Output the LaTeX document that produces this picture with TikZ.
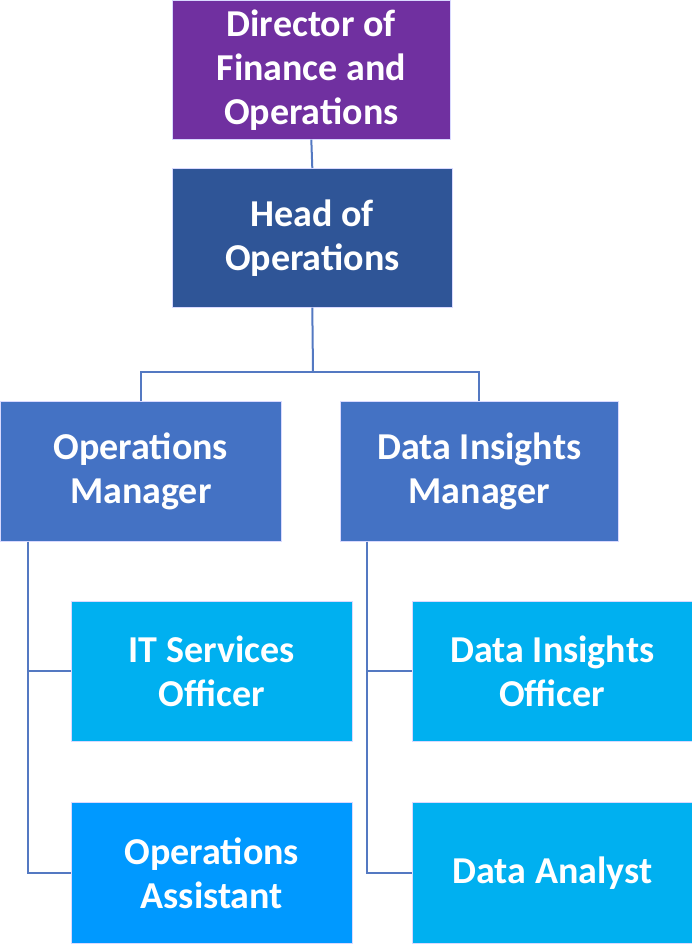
\documentclass[tikz,border=0pt]{standalone}
\usepackage{fontspec}
\setmainfont{Carlito}
\usetikzlibrary{calc}
\definecolor{cpurple}{HTML}{7030A0}
\definecolor{cdark}{HTML}{2F5597}
\definecolor{cmid}{HTML}{4472C4}
\definecolor{ccyan}{HTML}{00B0F0}
\definecolor{cbright}{HTML}{0099FF}
\definecolor{cline}{HTML}{5479C2}
\tikzset{
  box/.style={rectangle, anchor=north west, inner sep=0pt, align=center,
    text=white, font=\fontsize{38}{44}\selectfont\bfseries,
    draw=white!85!blue, line width=0.6pt},
  conn/.style={draw=cline, line width=2pt},
}
\begin{document}
\begin{tikzpicture}[x=1pt,y=-1pt]
\useasboundingbox (0,0) rectangle (692,944);
\node[box, fill=cpurple, minimum width=278pt, minimum height=139pt] (dir) at (172,0) {Director of\\Finance and\\Operations};
\node[box, fill=cdark, minimum width=280pt, minimum height=139pt] (head) at (172,168) {Head of\\Operations};
\node[box, fill=cmid, minimum width=281pt, minimum height=140pt] (om) at (0,401) {Operations\\Manager};
\node[box, fill=cmid, minimum width=278pt, minimum height=140pt] (dim) at (340,401) {Data Insights\\Manager};
\node[box, fill=ccyan, minimum width=281pt, minimum height=140pt] (its) at (71,601) {IT Services\\Officer};
\node[box, fill=cbright, minimum width=281pt, minimum height=141pt] (oa) at (71,802) {Operations\\Assistant};
\node[box, fill=ccyan, minimum width=280pt, minimum height=140pt] (dio) at (412,601) {Data Insights\\Officer};
\node[box, fill=ccyan, minimum width=280pt, minimum height=141pt] (da) at (412,802) {Data Analyst};
\coordinate (j) at (313,372);
\coordinate (lj) at ($(om.south west)+(28,0)$);
\coordinate (rj) at ($(dim.south west)+(27,0)$);
\draw[conn] (dir.south) -- (head.north);
\draw[conn] (head.south) -- (j);
\draw[conn] (om.north) |- (j) -| (dim.north);
\draw[conn] (lj) |- (its.west);
\draw[conn] (lj) |- (oa.west);
\draw[conn] (rj) |- (dio.west);
\draw[conn] (rj) |- (da.west);
\end{tikzpicture}
\end{document}
